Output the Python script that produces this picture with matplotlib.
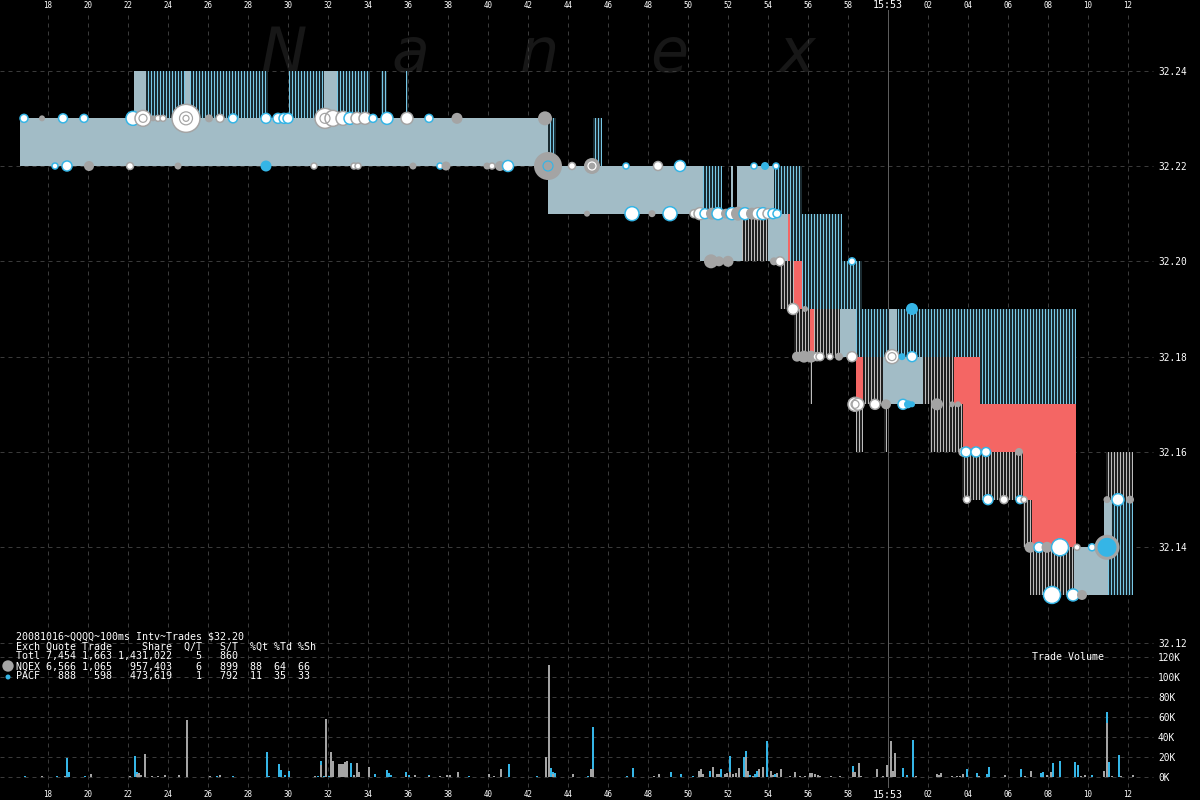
import matplotlib
matplotlib.use('Agg')
import matplotlib.pyplot as plt
import numpy as np

DPI = 72
plt.rcParams['font.family'] = ['DejaVu Sans Mono']
plt.rcParams['hatch.linewidth'] = 1.0

BG = 'black'
GRID = '#3a3a3a'
GRAY = '#a4a4a4'
BLUE = '#35b5e6'
RED = '#f46664'

# ---------------- data ----------------
# time axis: seconds after 15:52:00
x_ticks = list(range(18, 74, 2))
x_labels = [str(s) if s < 60 else ('15:53' if s == 60 else f'{s-60:02d}') for s in x_ticks]
price_ticks = [32.12, 32.14, 32.16, 32.18, 32.20, 32.22, 32.24]
vol_ticks = [0, 20, 40, 60, 80, 100, 120]

# quote regions (NBBO / exchange quote stripes), one cent high each
rect_t0 = [22.3, 22.9, 24.85, 30.05, 31.8, 32.45, 34.65, 35.9,
           16.6, 43.0, 45.25,
           43.0, 50.75, 52.15, 52.45, 54.3,
           50.6, 52.7, 54.0, 55.0, 55.1,
           54.6, 55.3, 55.7,
           55.3, 56.1, 56.3, 57.6, 58.4, 60.05,
           56.1, 58.4, 58.75, 59.75, 61.75, 63.3, 64.6,
           58.4, 59.8, 62.1, 63.75,
           63.7, 66.75, 70.9,
           66.75, 67.2, 70.8, 71.2,
           67.1, 69.3, 71.0]
rect_t1 = [22.9, 29.0, 25.1, 31.8, 32.45, 34.1, 34.95, 36.0,
           43.0, 43.4, 45.7,
           50.75, 51.7, 52.25, 54.3, 55.7,
           52.7, 54.0, 55.0, 55.1, 57.7,
           55.3, 55.7, 58.7,
           56.1, 56.3, 57.6, 58.4, 69.4, 60.45,
           56.2, 58.75, 59.75, 61.75, 63.3, 64.6, 69.4,
           58.75, 59.95, 63.75, 69.4,
           66.75, 69.4, 72.25,
           67.2, 69.4, 71.2, 72.25,
           69.3, 71.0, 72.25]
rect_lo = [32.23] * 8 + [32.22] * 3 + [32.21] * 5 + [32.20] * 5 + [32.19] * 3 + \
          [32.18] * 6 + [32.17] * 7 + [32.16] * 4 + [32.15] * 3 + [32.14] * 4 + [32.13] * 3
rect_kind = ['band', 'blue', 'band', 'blue', 'band', 'blue', 'blue', 'blue',
             'band', 'blue', 'blue',
             'band', 'blue', 'band', 'band', 'blue',
             'band', 'gray', 'band', 'red', 'blue',
             'gray', 'red', 'blue',
             'gray', 'red', 'gray', 'band', 'blue', 'band',
             'gray', 'red', 'gray', 'band', 'gray', 'red', 'blue',
             'gray', 'gray', 'gray', 'red',
             'gray', 'red', 'gray',
             'gray', 'red', 'band', 'blue',
             'gray', 'band', 'blue']

# trades: time, price, radius(px), style
trade_t = [16.8, 17.7, 18.75, 19.8, 22.25, 22.75, 23.25, 23.5, 23.75, 24.9, 26.05, 26.6, 27.25,
           28.9, 29.5, 29.8, 30.0, 31.85, 32.25, 32.75, 33.1, 33.45, 33.85, 34.25, 34.95,
           35.95, 37.05, 38.45, 42.85,
           18.35, 18.95, 20.05, 22.1, 24.5, 28.9, 31.3, 33.3, 33.5, 36.25, 37.6, 37.9, 39.95,
           40.2, 40.6, 41.0, 43.0, 44.2, 45.2, 46.9, 48.5, 49.6, 53.3, 53.85, 54.4,
           44.95, 47.2, 48.2, 49.1, 50.3, 50.6, 50.85, 51.2, 51.5, 51.9, 52.2, 52.5, 52.85,
           53.2, 53.5, 53.75, 54.0, 54.25, 54.45,
           51.15, 51.55, 52.0, 54.3, 54.6, 58.2,
           55.25, 55.85, 61.2,
           55.45, 55.8, 56.15, 56.45, 56.6, 57.1, 57.55, 58.2, 60.2, 60.7, 61.2,
           58.35, 58.5, 59.35, 59.9, 60.75, 61.0, 61.2, 62.45, 63.2, 63.5,
           63.75, 63.9, 64.4, 64.9, 66.55,
           63.95, 65.0, 65.8, 66.6, 66.8, 70.95, 71.5, 72.1,
           67.1, 67.55, 67.95, 68.6, 69.45, 70.2, 70.95,
           68.2, 69.25, 69.7]
trade_px = [32.23] * 29 + [32.22] * 25 + [32.21] * 19 + [32.20] * 6 + [32.19] * 3 + \
           [32.18] * 11 + [32.17] * 10 + [32.16] * 5 + [32.15] * 8 + [32.14] * 7 + [32.13] * 3
trade_r = [4, 3, 4.5, 4, 7, 8, 3, 3, 3, 14, 4, 4, 4.5,
           5, 5, 5, 5, 10, 8, 7, 6, 6, 6, 4, 6,
           6, 4, 5.5, 7,
           3, 5, 5, 3.5, 3.5, 5.5, 3, 3, 3, 3.5, 3, 4.5, 3.5,
           3, 5, 5.5, 14, 3.5, 8, 3, 4.5, 5.5, 3, 4, 3,
           3, 7, 3.5, 7, 4, 6, 5, 6, 6, 5, 6, 7, 6,
           6, 6, 6, 5, 5, 4,
           7, 5, 5.5, 4, 4.5, 3.5,
           5.5, 3, 6,
           5, 6, 6, 4, 4, 3, 4, 5, 7, 3.5, 5,
           7, 6, 5, 5, 5, 4, 3, 6, 3, 3,
           4, 5, 5, 4.5, 4,
           3.5, 5, 4, 4, 3, 3.5, 6, 4,
           5.5, 5, 5.5, 8.5, 3, 3.5, 11,
           8.5, 6, 5]
trade_kind = ['wb', 'g', 'wb', 'wb', 'wb', 'wg', 'g', 'wg', 'wg', 'wg', 'g', 'wg', 'wb',
              'wb', 'wb', 'wb', 'wb', 'wg', 'wg', 'wg', 'wb', 'wg', 'wg', 'wb', 'wb',
              'wg', 'wb', 'g', 'g',
              'wb', 'wb', 'g', 'wg', 'g', 'b', 'wg', 'wg', 'wg', 'g', 'wb', 'g', 'g',
              'wg', 'g', 'wb', 'g', 'wg', 'g', 'wb', 'wg', 'wb', 'wb', 'b', 'wb',
              'g', 'wb', 'g', 'wb', 'wg', 'wg', 'wb', 'g', 'wb', 'g', 'wb', 'g', 'wb',
              'g', 'wg', 'wb', 'wg', 'wb', 'wb',
              'g', 'g', 'g', 'g', 'wg', 'wb',
              'wg', 'g', 'b',
              'g', 'g', 'g', 'wg', 'wg', 'wg', 'g', 'wg', 'wg', 'b', 'wb',
              'wg', 'wg', 'wg', 'g', 'wb', 'b', 'b', 'g', 'g', 'g',
              'wg', 'wb', 'wb', 'wb', 'g',
              'wg', 'wb', 'wg', 'wb', 'wg', 'g', 'wb', 'g',
              'g', 'wb', 'g', 'wb', 'wg', 'wb', 'bg',
              'wb', 'wb', 'g']

# inner rings of overlapping trades at the same spot
ring_t = [24.9, 24.9, 22.75, 31.85, 43.0, 45.2, 60.2, 58.35, 68.6]
ring_px = [32.23, 32.23, 32.23, 32.23, 32.22, 32.22, 32.18, 32.17, 32.14]
ring_r = [6.5, 3, 4, 5, 5, 4, 4, 4, 4]
ring_col = [GRAY, GRAY, GRAY, GRAY, BLUE, 'white', GRAY, GRAY, 'white']

# trade volume per 100ms interval (thousands of shares)
vol_t = [16.85, 17.7, 18.45, 18.85, 18.95, 19.05, 19.85, 20.15, 22.1, 22.35, 22.45, 22.55, 22.65,
         22.85, 23.2, 23.5, 23.85, 24.55, 24.95, 26.1, 26.45, 26.6, 27.25, 28.95, 29.05, 29.55,
         29.65, 29.85, 30.05, 31.35, 31.5, 31.65, 31.8, 31.9, 32.05, 32.15, 32.25, 32.55, 32.65,
         32.75, 32.85, 32.95, 33.15, 33.3, 33.45, 33.55, 34.05, 34.35, 34.95, 35.05, 35.15, 35.9,
         36.05, 36.35, 37.05, 37.6, 37.95, 38.1, 38.5, 39.05, 40.05, 40.3, 40.65, 41.05, 42.45,
         42.9, 43.05, 43.15, 43.25, 43.35, 44.25, 45.0, 45.15, 45.25, 46.95, 47.25, 48.3, 48.55,
         49.15, 49.65, 50.25, 50.55, 50.65, 50.75, 51.1, 51.25, 51.45, 51.55, 51.65, 51.85, 51.95,
         52.1, 52.25, 52.4, 52.55, 52.8, 52.9, 53.0, 53.1, 53.25, 53.35, 53.45, 53.55, 53.75,
         53.95, 54.15, 54.25, 54.35, 54.45, 54.65, 55.1, 55.35, 55.6, 55.85, 56.1, 56.2, 56.35,
         56.5, 56.6, 57.15, 57.6, 58.25, 58.35, 58.55, 58.65, 59.45, 59.75, 59.95, 60.15, 60.25,
         60.35, 60.75, 60.95, 61.25, 61.4, 62.45, 62.55, 62.65, 63.2, 63.45, 63.6, 63.75, 63.95,
         64.45, 64.55, 64.95, 65.05, 65.85, 66.65, 66.85, 67.15, 67.65, 67.75, 67.95, 68.15,
         68.25, 68.6, 69.35, 69.5, 69.65, 69.85, 70.2, 70.8, 70.95, 71.05, 71.2, 71.55, 71.65,
         72.25]
vol_nqex = [0, 0.5, 0, 1, 0, 0, 0, 2.5, 0.5, 0, 3, 4, 1.5,
            23, 0.5, 0.5, 1.5, 1.5, 57, 0.5, 0, 1.5, 0, 0, 0, 0,
            0, 0, 0, 0.5, 0, 12, 0, 58, 0, 25, 16, 13, 13,
            13, 15, 16, 0, 2, 14, 5, 10, 0, 0, 0, 0, 1,
            0, 1.5, 0.5, 0.5, 1.5, 1.5, 5, 0, 2.5, 0.5, 7.5, 0, 0,
            20, 112, 0, 3, 0, 2.5, 0, 7.5, 8, 0, 0, 0.5, 2.5,
            0, 0, 0, 6, 8, 3, 0, 10, 3, 3, 0, 3, 3.5,
            5, 3, 4, 9, 0, 20, 6, 0, 1, 0, 0, 8, 10,
            0, 6, 2, 0, 4, 8, 1, 5, 1, 1, 3.5, 3.5, 2.5,
            1.5, 0.5, 0.5, 0.5, 5, 5, 14, 1, 8, 0.5, 12, 36, 6,
            24, 0, 0, 0, 0.5, 3, 2, 3.5, 0.5, 0.5, 0.5, 3, 0,
            0, 0.5, 0, 0, 1.5, 0, 0.5, 6, 0, 0, 2, 5,
            0, 0, 0, 0, 0.5, 2, 0, 6, 54, 0, 0.5, 0, 0.5,
            2]
vol_pacf = [0.5, 0, 0.5, 0, 19, 5, 0.5, 0, 0, 21, 2, 0, 0,
            0, 0, 0, 0, 0, 0, 0, 0.5, 0, 0.5, 25, 1, 13,
            7, 2, 6, 0, 0.5, 4, 0.5, 0, 0.5, 0, 0, 0, 0,
            0, 0, 0, 14, 0, 0, 0, 0, 2.5, 7, 4, 2, 4,
            2, 0, 1, 0, 0, 0, 0, 0.5, 0, 0, 0, 12.5, 0.5,
            0, 0, 9, 2, 4, 0, 0.5, 0, 42, 0.5, 9, 0, 0,
            4.5, 2.5, 0.5, 0, 0, 0, 5.5, 0, 0, 0, 8, 0, 0,
            16, 0, 0, 0, 20, 6, 0, 2, 0, 3, 6, 0, 0,
            36, 0, 0, 3, 0, 0, 0, 0, 0, 0, 0, 0, 0,
            0, 0, 0, 0, 6, 0, 0, 0, 0, 0, 0, 0, 0,
            0, 9, 2, 37, 0, 0, 0, 0, 0, 0, 0, 0, 8,
            4, 0, 3, 10, 0, 8, 0, 0, 4, 5, 0, 0,
            14, 16, 15, 12, 0, 0, 1.5, 0, 11, 15, 0, 22, 0,
            0]

legend_lines = ['20081016~QQQQ~100ms Intv~Trades $32.20',
                'Exch Quote Trade     Share  Q/T   S/T  %Qt %Td %Sh',
                'Totl 7,454 1,663 1,431,022    5   860',
                'NQEX 6,566 1,065   957,403    6   899  88  64  66',
                'PACF   888   598   473,619    1   792  11  35  33']

# ---------------- figure ----------------
W, H = 1200, 800
XL, YL = (15.6, 75.6), (32.08698, 32.25483)
fig = plt.figure(figsize=(W / DPI, H / DPI), dpi=DPI, facecolor=BG)
ax = fig.add_axes([0, 0, 1, 1])
ax.set_facecolor(BG)
ax.set_xlim(*XL)
ax.set_ylim(*YL)
for s in ax.spines.values():
    s.set_visible(False)

# watermark
for ch, xc in zip('Nanex', [284, 410, 539, 669, 797]):
    ax.text(xc / W, 1 - 72 / H, ch, transform=fig.transFigure, ha='center', va='baseline',
            fontsize=62, family='DejaVu Sans', style='italic', color='#171717', zorder=0.5)

# grid
dash = (0, (4, 4))
for p in price_ticks:
    ax.axhline(p, xmin=0, xmax=1153 / W, color=GRID, lw=1, ls=dash, zorder=1)
for s in x_ticks:
    if s != 60:
        ax.axvline(s, ymin=13 / H, ymax=1 - 14 / H, color=GRID, lw=1, ls=dash, zorder=1)
ax.axvline(60, ymin=13 / H, ymax=1 - 10 / H, color='#5c5c5c', lw=1, zorder=1.5)

# quote regions: NBBO band as its mean tone, exchange quote columns as vertical stripes
fill = {'band': '#a2bcc6', 'blue': '#1a2a30', 'gray': '#202020', 'red': RED}
hatch_col = {'blue': '#78c8e6', 'gray': '#bdbdbd'}
for t0, t1, lo, k in zip(rect_t0, rect_t1, rect_lo, rect_kind):
    if k in hatch_col:
        ax.bar(t0, 0.01, width=t1 - t0, bottom=lo, align='edge', color=fill[k],
               edgecolor=hatch_col[k], hatch='||||', lw=0, zorder=2)
    else:
        ax.bar(t0, 0.01, width=t1 - t0, bottom=lo, align='edge', color=fill[k], lw=0, zorder=2)

# trades
style = {'g': (GRAY, GRAY, 0), 'b': (BLUE, BLUE, 0), 'wb': ('white', BLUE, 1.5),
         'wg': ('white', GRAY, 1.5), 'bg': (BLUE, GRAY, 3)}
fc = [style[k][0] for k in trade_kind]
ec = [style[k][1] for k in trade_kind]
lw = [style[k][2] for k in trade_kind]
sz = [(2 * r) ** 2 for r in trade_r]
ax.scatter(trade_t, trade_px, s=sz, c=fc, edgecolors=ec, linewidths=lw, zorder=4)
ax.scatter(ring_t, ring_px, s=[(2 * r) ** 2 for r in ring_r], facecolors='none',
           edgecolors=ring_col, linewidths=1.2, zorder=4.5)

# axis labels
ax.set_xticks(x_ticks, labels=x_labels)
ax.tick_params(axis='x', length=0, pad=-10, labelsize=7.5, labelcolor='white',
               labeltop=True, labelbottom=True, top=True, bottom=True)
for tk, lab in zip(ax.xaxis.get_major_ticks(), x_labels):
    if lab == '15:53':
        tk.label1.set_fontsize(10)
        tk.label2.set_fontsize(10)
ax.yaxis.tick_right()
ax.set_yticks(price_ticks, labels=[f'{p:.2f}' for p in price_ticks])
ax.tick_params(axis='y', length=0, pad=-42, labelsize=9.5, labelcolor='white')

# volume panel
axv = fig.add_axes([0, 0, 1, 1])
axv.patch.set_visible(False)
axv.set_xlim(*XL)
axv.set_ylim(-23.3, 776.7)
for s in axv.spines.values():
    s.set_visible(False)
for v in vol_ticks:
    axv.axhline(v, xmin=0, xmax=1153 / W, color=GRID, lw=1, ls=dash, zorder=1)
axv.bar(vol_t, vol_nqex, width=0.1, color=GRAY, lw=0, zorder=3)
axv.bar(vol_t, vol_pacf, bottom=vol_nqex, width=0.1, color=BLUE, lw=0, zorder=3)
axv.set_xticks([])
axv.yaxis.tick_right()
axv.set_yticks(vol_ticks, labels=[f'{v}K' for v in vol_ticks])
axv.tick_params(axis='y', length=0, pad=-42, labelsize=9.5, labelcolor='white')

axv.text(1032 / W, 1 - 657 / H, 'Trade Volume', transform=fig.transFigure, ha='left',
         va='center', fontsize=10, color='white')
for i, line in enumerate(legend_lines):
    axv.text(16 / W, 1 - (636.5 + 10 * i) / H, line, transform=fig.transFigure, ha='left',
             va='center', fontsize=10, color='white')
axv.scatter([8 / W, 8 / W], [1 - 666 / H, 1 - 677 / H], s=[130, 25], c=[GRAY, BLUE],
            transform=fig.transFigure, clip_on=False, zorder=5, lw=0)

fig.savefig('out.png', dpi=DPI, facecolor=BG)
